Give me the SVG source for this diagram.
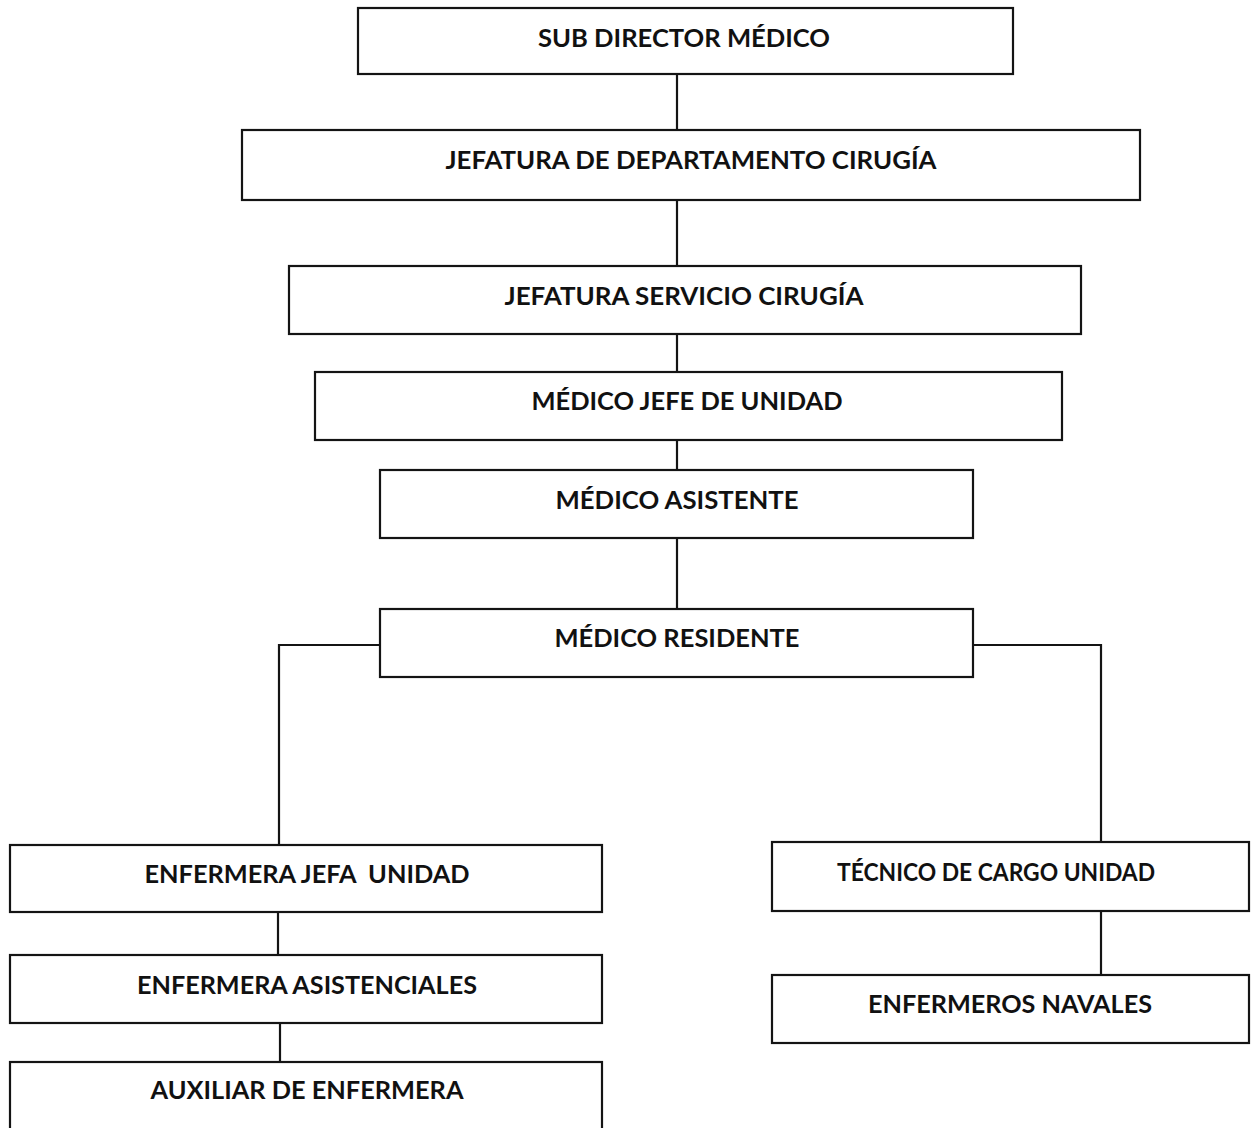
<svg xmlns="http://www.w3.org/2000/svg" width="1252" height="1128" viewBox="0 0 1252 1128">
  <style>
    .box { fill: #ffffff; stroke: #141414; stroke-width: 2.2; }
    .lbl { font-family: Lato, "Open Sans", "Liberation Sans", sans-serif; font-weight: bold; font-size: 24px; fill: #111111; text-anchor: middle; }
    .link { fill: none; stroke: #141414; stroke-width: 2.2; }
  </style>
  <rect width="1252" height="1128" fill="#ffffff"/>

  <!-- connectors -->
  <g id="connectors">
    <line class="link" x1="677" y1="74" x2="677" y2="130"/>
    <line class="link" x1="677" y1="200" x2="677" y2="266"/>
    <line class="link" x1="677" y1="334" x2="677" y2="372"/>
    <line class="link" x1="677" y1="440" x2="677" y2="470"/>
    <line class="link" x1="677" y1="538" x2="677" y2="609"/>
    <polyline class="link" points="380,645 279,645 279,845"/>
    <polyline class="link" points="973,645 1101,645 1101,842"/>
    <line class="link" x1="278" y1="906" x2="278" y2="955"/>
    <line class="link" x1="280" y1="1017" x2="280" y2="1062"/>
    <line class="link" x1="1101" y1="911" x2="1101" y2="975"/>
  </g>

  <!-- nodes -->
  <g id="sub-director">
    <rect class="box" x="358" y="8" width="655" height="66"/>
    <text class="lbl" x="684" y="47" textLength="292" lengthAdjust="spacingAndGlyphs">SUB DIRECTOR MÉDICO</text>
  </g>
  <g id="jefatura-departamento">
    <rect class="box" x="242" y="130" width="898" height="70"/>
    <text class="lbl" x="691" y="169" textLength="491" lengthAdjust="spacingAndGlyphs">JEFATURA DE DEPARTAMENTO CIRUGÍA</text>
  </g>
  <g id="jefatura-servicio">
    <rect class="box" x="289" y="266" width="792" height="68"/>
    <text class="lbl" x="684" y="305" textLength="359" lengthAdjust="spacingAndGlyphs">JEFATURA SERVICIO CIRUGÍA</text>
  </g>
  <g id="medico-jefe">
    <rect class="box" x="315" y="372" width="747" height="68"/>
    <text class="lbl" x="687" y="410" textLength="311" lengthAdjust="spacingAndGlyphs">MÉDICO JEFE DE UNIDAD</text>
  </g>
  <g id="medico-asistente">
    <rect class="box" x="380" y="470" width="593" height="68"/>
    <text class="lbl" x="677" y="509" textLength="243" lengthAdjust="spacingAndGlyphs">MÉDICO ASISTENTE</text>
  </g>
  <g id="medico-residente">
    <rect class="box" x="380" y="609" width="593" height="68"/>
    <text class="lbl" x="677" y="647" textLength="245" lengthAdjust="spacingAndGlyphs">MÉDICO RESIDENTE</text>
  </g>
  <g id="enfermera-jefa">
    <rect class="box" x="10" y="845" width="592" height="67"/>
    <text class="lbl" x="307" y="883" textLength="325" lengthAdjust="spacingAndGlyphs" xml:space="preserve">ENFERMERA JEFA  UNIDAD</text>
  </g>
  <g id="enfermera-asistenciales">
    <rect class="box" x="10" y="955" width="592" height="68"/>
    <text class="lbl" x="307" y="994" textLength="340" lengthAdjust="spacingAndGlyphs">ENFERMERA ASISTENCIALES</text>
  </g>
  <g id="auxiliar-enfermera">
    <rect class="box" x="10" y="1062" width="592" height="80"/>
    <text class="lbl" x="307" y="1099" textLength="313" lengthAdjust="spacingAndGlyphs">AUXILIAR DE ENFERMERA</text>
  </g>
  <g id="tecnico-cargo">
    <rect class="box" x="772" y="842" width="477" height="69"/>
    <text class="lbl" x="996" y="881" textLength="318" lengthAdjust="spacingAndGlyphs">TÉCNICO DE CARGO UNIDAD</text>
  </g>
  <g id="enfermeros-navales">
    <rect class="box" x="772" y="975" width="477" height="68"/>
    <text class="lbl" x="1010" y="1013" textLength="284" lengthAdjust="spacingAndGlyphs">ENFERMEROS NAVALES</text>
  </g>
</svg>
